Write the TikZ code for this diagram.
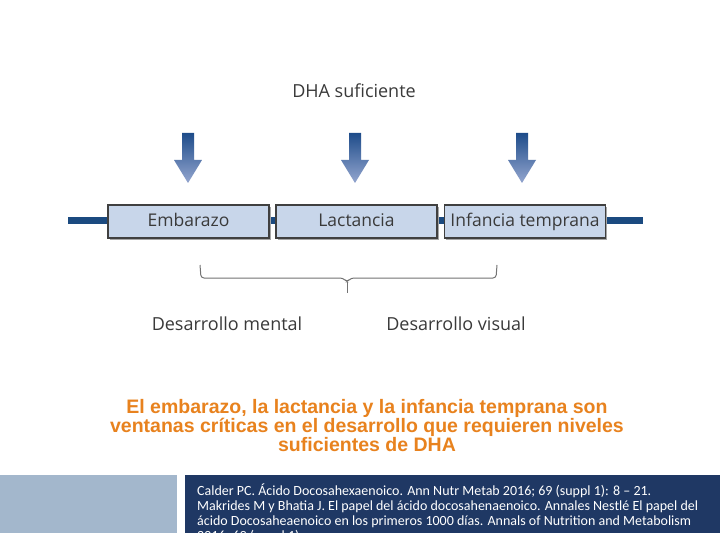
\documentclass[tikz,border=0pt]{standalone}
\usepackage{fontspec}
\setmainfont{Open Sans}
\newfontfamily\arialf{Liberation Sans}
\newfontfamily\calib{Carlito}
\definecolor{navy}{HTML}{1F3864}
\definecolor{lineblue}{HTML}{1B4A80}
\definecolor{boxfill}{HTML}{C8D6EA}
\definecolor{boxedge}{HTML}{404040}
\definecolor{arrtop}{HTML}{1E4C8A}
\definecolor{arrbot}{HTML}{94A6CF}
\definecolor{orangetxt}{HTML}{E8821E}
\definecolor{greyblue}{HTML}{A3B7CC}
\definecolor{txtgrey}{HTML}{3A3A3A}
\tikzset{
  stagebox/.style={draw=boxedge, line width=1.2pt, fill=boxfill, minimum width=161pt, minimum height=33pt, inner sep=0pt, text height=13pt, text depth=4pt, font=\fontsize{17.5}{20}\selectfont, text=txtgrey},
  labeltxt/.style={font=\fontsize{18}{20}\selectfont, text=txtgrey, inner sep=0pt},
}
\begin{document}
\begin{tikzpicture}[x=1pt,y=-1pt]
\useasboundingbox (0,0) rectangle (720,540);
\fill[white] (0,0) rectangle (720,540);
% title
\node[labeltxt] (title) at (354,91) {DHA suficiente};
% arrows
\foreach \cx/\nm in {188/a1,355/a2,522/a3}{
  \shade[top color=arrtop, bottom color=arrbot]
    (\cx-6,133) -- (\cx+6,133) -- (\cx+6,160) -- (\cx+14,160) -- (\cx,183) -- (\cx-14,160) -- (\cx-6,160) -- cycle;
  \coordinate (\nm) at (\cx,183);
}
% timeline
\coordinate (tl) at (68,221);
\coordinate (tr) at (643,221);
\draw[lineblue, line width=7pt] (tl) -- (tr);
% shadows
\foreach \x in {108,276,444}{
  \fill[black!35] (\x+2,207) rectangle (\x+163,240);
}
\node[stagebox] (emb) at (188.5,221.5) {Embarazo};
\node[stagebox] (lac) at (356.5,221.5) {Lactancia};
\node[stagebox] (inf) at (525,221.5) {Infancia temprana};
% bracket
\coordinate (bl) at (200,265);
\coordinate (br) at (497,265);
\coordinate (bt) at (347,293);
\draw[black!55, line width=1pt, rounded corners=3pt]
  (bl) -- (201,278) -- (343,278) -- (347,282) -- (351,278) -- (496,278) -- (br);
\draw[black!55, line width=1pt] (347,282) -- (bt);
% outcomes
\node[labeltxt] (ment) at (227,324) {Desarrollo mental};
\node[labeltxt] (vis) at (456,324) {Desarrollo visual};
% orange statement
\node[font=\arialf\bfseries\fontsize{19.5}{19}\selectfont, text=orangetxt, align=center, inner sep=0pt] (stmt) at (367,426)
  {El embarazo, la lactancia y la infancia temprana son\\ventanas críticas en el desarrollo que requieren niveles\\suficientes de DHA};
% footer
\fill[greyblue] (0,475) rectangle (177,533);
\fill[navy] (185,475) rectangle (720,533);
\begin{scope}
\clip (185,475) rectangle (720,533);
\node[font=\calib\fontsize{14}{15}\selectfont, text=white, align=left, anchor=north west, inner sep=0pt] (cite) at (197,484)
  {Calder PC. Ácido Docosahexaenoico. Ann Nutr Metab 2016; 69 (suppl 1): 8 – 21.\\
   Makrides M y Bhatia J. El papel del ácido docosahenaenoico. Annales Nestlé El papel del\\
   ácido Docosaheaenoico en los primeros 1000 días. Annals of Nutrition and Metabolism\\
   2016; 69 (suppl 1):};
\end{scope}
\end{tikzpicture}
\end{document}
